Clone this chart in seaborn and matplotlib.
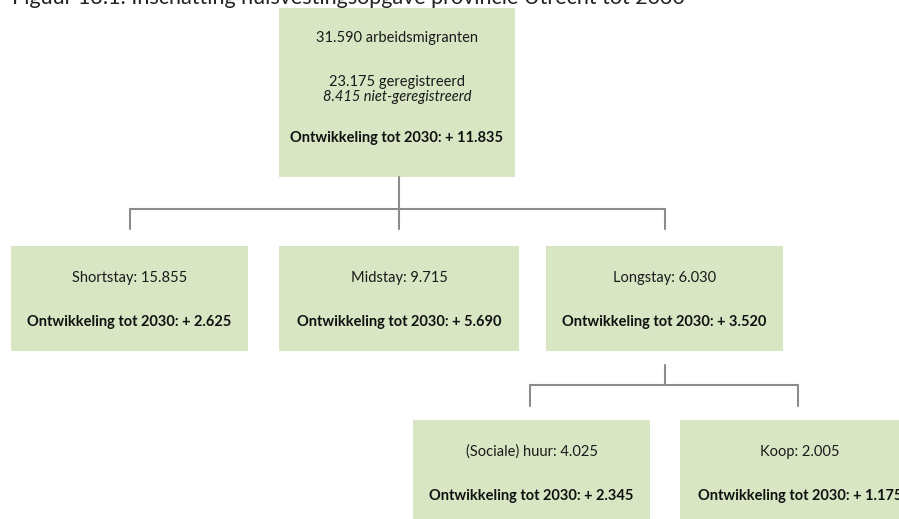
import matplotlib
matplotlib.use("Agg")
import matplotlib.pyplot as plt
import seaborn as sns
from matplotlib.patches import Rectangle

title = "Figuur 13.1. Inschatting huisvestingsopgave provincie Utrecht tot 2030"
node_labels = ["31.590 arbeidsmigranten", "Shortstay: 15.855", "Midstay: 9.715",
               "Longstay: 6.030", "(Sociale) huur: 4.025", "Koop: 2.005"]
growth = ["+ 11.835", "+ 2.625", "+ 5.690", "+ 3.520", "+ 2.345", "+ 1.175"]
registered = "23.175 geregistreerd"
unregistered = "8.415 niet-geregistreerd"
parents = [None, 0, 0, 0, 3, 3]

# layout in pixel units: x0, y0, x1, y1
boxes = [(279, 8, 515, 177), (11, 246, 248, 351), (279, 246, 519, 351),
         (546, 246, 783, 351), (413, 420, 650, 530), (680, 420, 920, 530)]
fill = "#d8e6c4"
line_col = "#8c8c8c"

sns.set_theme(style="white")
plt.rcParams["font.family"] = ["Lato", "DejaVu Sans"]

fig = plt.figure(figsize=(8.99, 5.19), dpi=100)
ax = fig.add_axes([0, 0, 1, 1])
ax.set_xlim(0, 899)
ax.set_ylim(519, 0)
ax.axis("off")

ax.text(12, 4, title, fontsize=15.5, ha="left", va="baseline", color="#222222")

for i, (x0, y0, x1, y1) in enumerate(boxes):
    ax.add_patch(Rectangle((x0, y0), x1 - x0, y1 - y0, facecolor=fill, edgecolor="none", zorder=1))
    cx = (x0 + x1) / 2
    if i == 0:
        ax.text(cx, 38, node_labels[i], ha="center", va="center", fontsize=10.5, color="#1a1a1a")
        ax.text(cx, 82, registered, ha="center", va="center", fontsize=10.5, color="#1a1a1a")
        ax.text(cx, 97, unregistered, ha="center", va="center", fontsize=10.5, style="italic", color="#1a1a1a")
        ax.text(cx, 138, "Ontwikkeling tot 2030: " + growth[i], ha="center", va="center",
                fontsize=10.5, fontweight="bold", color="#111111")
    else:
        ax.text(cx, y0 + 32, node_labels[i], ha="center", va="center", fontsize=10.5, color="#1a1a1a")
        ax.text(cx, y0 + 76, "Ontwikkeling tot 2030: " + growth[i], ha="center", va="center",
                fontsize=10.5, fontweight="bold", color="#111111")

# connectors
def connect(parent, ybar, ytop, xs):
    px = 399 if parent == 0 else 665
    pb = boxes[parent][3]
    ax.plot([px, px], [pb + (0 if parent == 0 else 14), ybar], color=line_col, lw=1.5)
    ax.plot([min(xs), max(xs)], [ybar, ybar], color=line_col, lw=1.5)
    for x in xs:
        ax.plot([x, x], [ybar, ytop], color=line_col, lw=1.5)

connect(0, 209, 229, [130, 399, 665])
connect(3, 385, 406, [530, 798])

fig.savefig("out.png", dpi=100)
